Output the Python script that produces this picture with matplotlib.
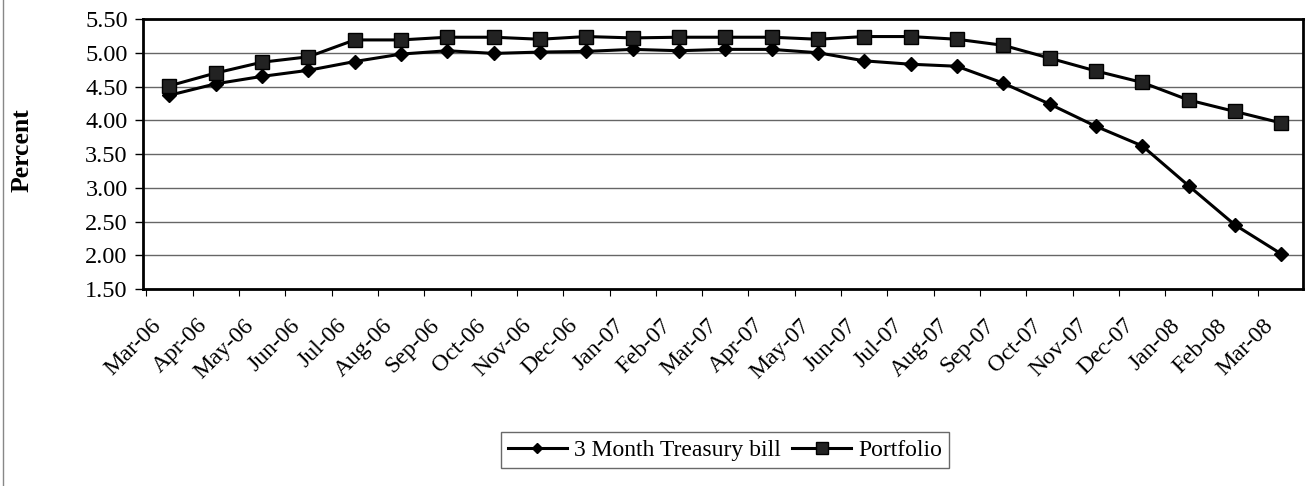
import matplotlib
matplotlib.use("Agg")
import matplotlib.pyplot as plt
from matplotlib.lines import Line2D

months = ["Mar-06", "Apr-06", "May-06", "Jun-06", "Jul-06", "Aug-06", "Sep-06",
          "Oct-06", "Nov-06", "Dec-06", "Jan-07", "Feb-07", "Mar-07", "Apr-07",
          "May-07", "Jun-07", "Jul-07", "Aug-07", "Sep-07", "Oct-07", "Nov-07",
          "Dec-07", "Jan-08", "Feb-08", "Mar-08"]
treasury = [4.37, 4.54, 4.65, 4.74, 4.87, 4.98, 5.03, 4.99, 5.01, 5.02, 5.05,
            5.03, 5.05, 5.05, 5.00, 4.88, 4.83, 4.80, 4.55, 4.24, 3.91, 3.62,
            3.03, 2.45, 2.02]
portfolio = [4.51, 4.70, 4.86, 4.94, 5.19, 5.19, 5.23, 5.23, 5.20, 5.24, 5.22,
             5.23, 5.23, 5.23, 5.20, 5.24, 5.24, 5.20, 5.11, 4.92, 4.73, 4.56,
             4.30, 4.13, 3.96]
yticks = [1.5, 2.0, 2.5, 3.0, 3.5, 4.0, 4.5, 5.0, 5.5]

plt.rcParams['font.family'] = ['Liberation Serif', 'DejaVu Serif']

fig = plt.figure(figsize=(13.05, 4.86), dpi=100)
ax = fig.add_axes([143 / 1305, 1 - 289 / 486, (1303 - 143) / 1305, (289 - 19) / 486])

x = list(range(len(months)))
ax.plot(x, treasury, color='black', lw=2.2, marker='D', ms=7,
        label='3 Month Treasury bill')
ax.plot(x, portfolio, color='black', lw=2.2, marker='s', ms=10.5,
        mfc='#222222', label='Portfolio')

ax.set_xlim(-0.57, 24.47)
ax.set_ylim(1.5, 5.5)
ax.set_yticks(yticks)
ax.set_yticklabels(["%.2f" % v for v in yticks], fontsize=17.5)
ax.yaxis.grid(True, color='#666666', lw=1.0)
ax.set_axisbelow(True)

# category ticks between the months, labels near the months (a bit to the left, like Excel)
ax.set_xticks([i + 0.5 for i in x[:-1]] + [-0.5], minor=False)
ax.set_xticklabels([])
ax.set_xticks([i - 0.25 for i in x], minor=True)
ax.set_xticklabels(months, minor=True, rotation=45, ha='right', va='center',
                   rotation_mode='anchor', fontsize=17)
ax.tick_params(axis='x', which='minor', length=0, pad=24)
ax.tick_params(axis='x', which='major', length=5, width=0.8, direction='out')
ax.tick_params(axis='y', length=6, width=1.0, direction='out', pad=5)

for s in ax.spines.values():
    s.set_linewidth(2.0)
    s.set_color('black')

fig.text(22 / 1305, 1 - 150 / 486, 'Percent', rotation=90, fontsize=18.5,
         fontweight='bold', ha='center', va='center')

leg = ax.legend(loc='center', bbox_to_anchor=(725 / 1305, 1 - 450 / 486),
                bbox_transform=fig.transFigure, ncol=2, fontsize=17,
                frameon=True, fancybox=False, handlelength=2.5,
                columnspacing=0.5, handletextpad=0.3, borderpad=0.3,
                markerscale=0.8)
leg.get_frame().set_edgecolor('#444444')
leg.get_frame().set_linewidth(1.0)

# scan edge on the left
fig.add_artist(Line2D([3 / 1305, 3 / 1305], [0, 1], color='#888888', lw=1.0))

fig.savefig('out.png', dpi=100)
